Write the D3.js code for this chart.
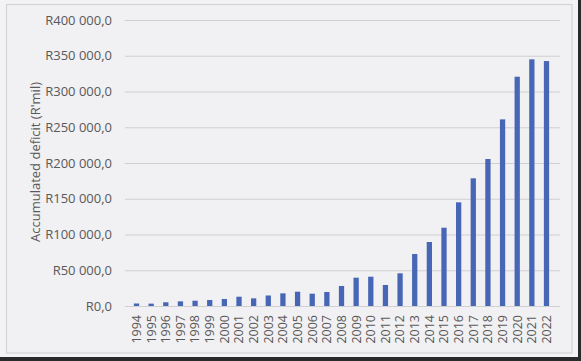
<!DOCTYPE html>
<html><head><meta charset="utf-8">
<script src="https://cdn.jsdelivr.net/npm/d3@7/dist/d3.min.js"></script>
<style>
html,body{margin:0;padding:0;background:#f3f2f4;}
svg{display:block;}
</style></head>
<body>
<script>
const years = ["1994","1995","1996","1997","1998","1999","2000","2001","2002","2003","2004","2005","2006","2007","2008","2009","2010","2011","2012","2013","2014","2015","2016","2017","2018","2019","2020","2021","2022"];
const deficit = [3500,3300,5200,6500,7400,8400,9800,13000,10700,14700,17700,20000,17200,19600,28000,39600,41000,29400,45700,72700,89500,109500,145000,178600,205600,261000,320700,345000,342600];
const yTicks = [0,50000,100000,150000,200000,250000,300000,350000,400000];
const yTitle = "Accumulated deficit (R'mil)";

const W = 581, H = 361;
const svg = d3.select("body").append("svg").attr("width", W).attr("height", H);
svg.append("rect").attr("width", W).attr("height", H).attr("fill", "#f3f2f4");
svg.append("rect").attr("x", 6.5).attr("y", 4.5).attr("width", 565.5).attr("height", 348.5)
  .attr("fill", "#f1f0f2").attr("stroke", "#d4d3d6").attr("stroke-width", 1.2);
svg.append("rect").attr("x", 0).attr("y", 357).attr("width", W).attr("height", 4).attr("fill", "#2a2a2a");
svg.append("rect").attr("x", 578).attr("y", 0).attr("width", 3).attr("height", H).attr("fill", "#2a2a2a");

const x = d3.scaleBand().domain(years).range([124.5, 558.5]).padding(0.64);
const y = d3.scaleLinear().domain([0, 400000]).range([306, 20]);

const fmt = v => {
  const s = d3.format(",.1f")(v).replace(/,/g, " ").replace(".", ",");
  return "R" + s;
};

const yAxis = svg.append("g").attr("transform", "translate(125,0)")
  .call(d3.axisLeft(y).tickValues(yTicks).tickFormat(fmt).tickSize(-435).tickPadding(13));
yAxis.select(".domain").remove();
yAxis.selectAll(".tick line").attr("stroke", "#d0cfd3").attr("stroke-width", 1);
yAxis.selectAll(".tick text").attr("fill", "#595959").style("font-family", "'Open Sans', sans-serif").style("font-size", "13px");

svg.append("g").selectAll("rect").data(years).join("rect")
  .attr("x", d => x(d)).attr("width", x.bandwidth())
  .attr("y", (d, i) => y(deficit[i])).attr("height", (d, i) => y(0) - y(deficit[i]))
  .attr("fill", "#4766b6");

const xAxis = svg.append("g").attr("transform", "translate(0,306)")
  .call(d3.axisBottom(x).tickSize(0));
xAxis.select(".domain").attr("stroke", "#d0cfd3");
xAxis.selectAll(".tick text")
  .attr("transform", "rotate(-90)")
  .attr("text-anchor", "end").attr("x", -9).attr("y", 0).attr("dy", "0.35em")
  .attr("fill", "#595959").style("font-family", "'Open Sans', sans-serif").style("font-size", "12.5px");

svg.append("text").attr("transform", "translate(40,162) rotate(-90)")
  .attr("text-anchor", "middle").attr("fill", "#595959")
  .style("font-family", "'Open Sans', sans-serif").style("font-size", "13px")
  .text(yTitle);
</script>
</body></html>
